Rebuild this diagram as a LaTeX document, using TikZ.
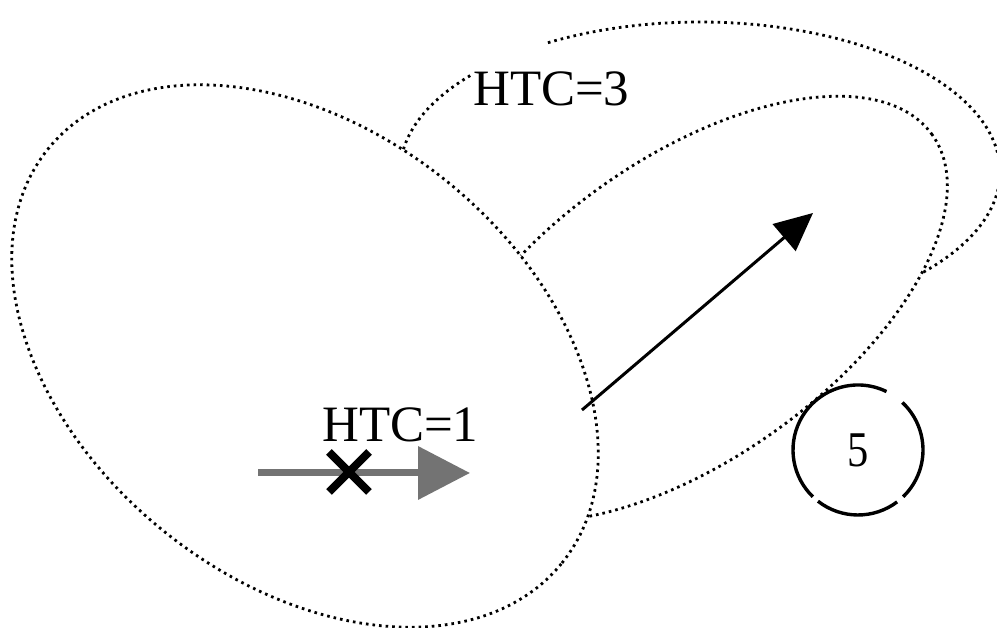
\documentclass[tikz,border=0pt]{standalone}
\usepackage{fontspec}
\setmainfont{Liberation Serif}
\usetikzlibrary{arrows.meta,calc}
\begin{document}
\begin{tikzpicture}[x=1pt,y=1pt,
  dotline/.style={line width=2.8pt, dash pattern=on 2.6pt off 4pt},
  lbl/.style={anchor=base west, inner sep=0pt, font=\fontsize{51}{60}\selectfont},
  ringarc/.style={line width=3.4pt}]
\useasboundingbox (0,0) rectangle (997,628);
\clip (0,0) rectangle (997,628);
% outer region (HTC=3)
\draw[dotline] (470.2,552.4) arc[start angle=140, end angle=481, x radius=300pt, y radius=150pt];
% middle region
\filldraw[dotline, fill=white, rotate around={35.5:(688,319)}] (688,319) ellipse [x radius=300pt, y radius=150pt];
% inner region (HTC=1)
\filldraw[dotline, fill=white, rotate around={-38.85:(305,272)}] (305,272) ellipse [x radius=330pt, y radius=225pt];
% circle 5
\coordinate (c5) at (858,178);
\fill[white] (c5) circle[radius=65pt];
\draw[ringarc] (c5) ++(64:65pt) arc[start angle=64, end angle=226, radius=65pt];
\draw[ringarc] (c5) ++(232:65pt) arc[start angle=232, end angle=307, radius=65pt];
\draw[ringarc] (c5) ++(314:65pt) arc[start angle=314, end angle=407, radius=65pt];
\node[inner sep=0pt, font=\fontsize{50}{60}\selectfont] (five) at (c5) {\scalebox{0.85}[1]{5}};
% labels
\node[lbl] (htc3) at (473,522) {HTC=3};
\node[lbl] (htc1) at (322,186) {HTC=1};
% black arrow
\coordinate (a1) at (582,218);
\coordinate (a2) at (813,415);
\draw[line width=3pt, -{Triangle[length=38pt,width=35pt]}] (a1) -- (a2);
% gray arrow
\coordinate (g1) at (258,155);
\coordinate (g2) at (470,155);
\draw[line width=7pt, black!55, -{Triangle[length=52pt,width=52pt]}] (g1) -- (g2);
% cross
\coordinate (x0) at (349,156);
\draw[line width=8pt] ($(x0)+(-20,-20)$) -- ($(x0)+(20,20)$) ($(x0)+(-20,20)$) -- ($(x0)+(20,-20)$);
\end{tikzpicture}
\end{document}
